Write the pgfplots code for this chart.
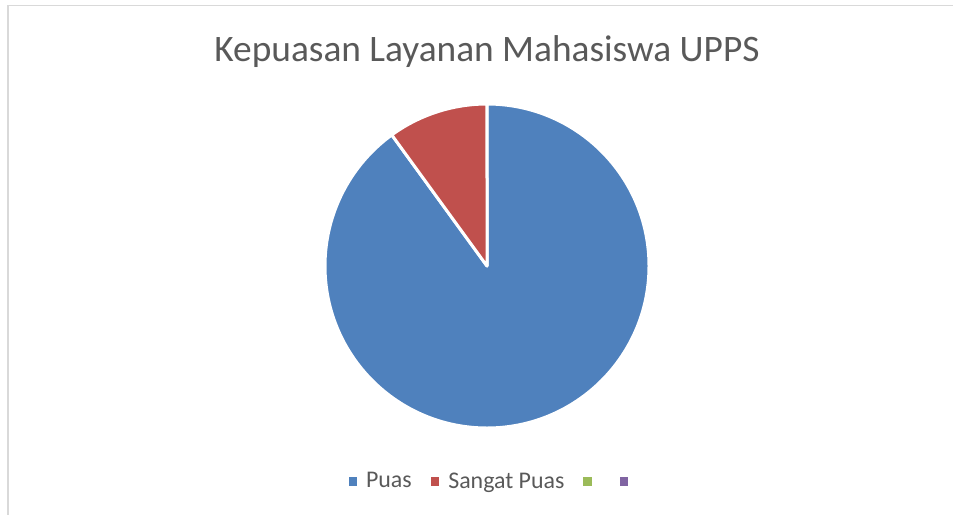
\documentclass[border=0pt]{standalone}
\usepackage{fontspec}
\setmainfont{Carlito}
\usepackage{pgfplots}
\usepackage{pgfplotstable}
\pgfplotsset{compat=1.18}
\definecolor{cPuas}{HTML}{4F81BD}
\definecolor{cSangat}{HTML}{C0504D}
\definecolor{cThree}{HTML}{9BBB59}
\definecolor{cFour}{HTML}{8064A2}
\definecolor{txt}{HTML}{595959}
\definecolor{frame}{HTML}{D9D9D9}
\pgfplotstableread{
label value
Puas 90
SangatPuas 10
}\piedata
\begin{document}
\begin{tikzpicture}
\pgfplotstablegetelem{0}{value}\of\piedata \pgfmathsetmacro{\va}{\pgfplotsretval}
\pgfplotstablegetelem{1}{value}\of\piedata \pgfmathsetmacro{\vb}{\pgfplotsretval}
\pgfmathsetmacro{\tot}{\va+\vb}
\pgfmathsetmacro{\anga}{90-360*(\va/\tot)}
\pgfmathsetmacro{\angb}{\anga-360*(\vb/\tot)}
\begin{axis}[
  at={(0,0)}, anchor=south west,
  width=953bp, height=515bp, scale only axis,
  xmin=0, xmax=953, ymin=0, ymax=515, y dir=reverse,
  hide axis, clip=false,
  legend columns=-1,
  legend image code/.code={\fill[#1, draw=none] (0bp,-4.5bp) rectangle (8.5bp,4.5bp);},
  legend style={at={(axis cs:494,481)}, anchor=center, draw=none, fill=none,
    font=\fontsize{24}{28}\selectfont, text=txt,
    /tikz/every even column/.append style={column sep=17bp},
    /tikz/every odd column/.append style={column sep=7bp}},
]
\draw[frame, line width=1.5bp] (axis cs:8,960) -- (axis cs:8,5.5) -- (axis cs:1200,5.5);
\node[text=txt, font=\fontsize{37.5}{44}\selectfont] at (axis cs:487,52) {Kepuasan Layanan Mahasiswa UPPS};
\fill[cPuas, draw=white, line width=3bp, line join=round]
  (axis cs:487,266) -- ++(90:162bp) arc[start angle=90, end angle=\anga, radius=162bp] -- cycle;
\fill[cSangat, draw=white, line width=3bp, line join=round]
  (axis cs:487,266) -- ++(\anga:162bp) arc[start angle=\anga, end angle=\angb, radius=162bp] -- cycle;
\addlegendimage{fill=cPuas}
\addlegendentry{Puas}
\addlegendimage{fill=cSangat}
\addlegendentry{Sangat Puas}
\addlegendimage{fill=cThree}
\addlegendentry{}
\addlegendimage{fill=cFour}
\addlegendentry{}
\end{axis}
\pgfresetboundingbox
\path[use as bounding box] (0,0) rectangle (953bp,515bp);
\end{tikzpicture}
\end{document}
